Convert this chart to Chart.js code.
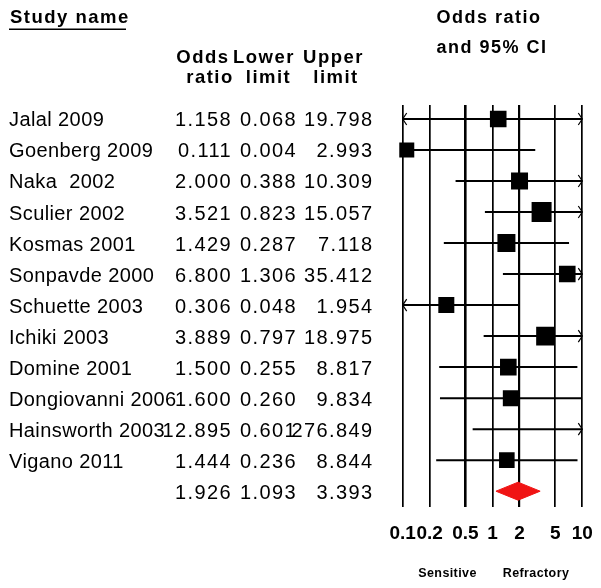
<!DOCTYPE html>
<html>
<head>
<meta charset="utf-8">
<script src="https://cdn.jsdelivr.net/npm/chart.js@4/dist/chart.umd.min.js"></script>
<style>
  html, body { margin: 0; padding: 0; background: #fff; }
</style>
</head>
<body>
<canvas id="forest" width="601" height="588"></canvas>
<script>
// Values
const studies = ['Jalal 2009', 'Goenberg 2009', 'Naka  2002', 'Sculier 2002', 'Kosmas 2001', 'Sonpavde 2000',
    'Schuette 2003', 'Ichiki 2003', 'Domine 2001', 'Dongiovanni 2006', 'Hainsworth 2003', 'Vigano 2011'];
const oddsRatio = [1.158, 0.111, 2.000, 3.521, 1.429, 6.800, 0.306, 3.889, 1.500, 1.600, 12.895, 1.444];
const lowerLimit = [0.068, 0.004, 0.388, 0.823, 0.287, 1.306, 0.048, 0.797, 0.255, 0.260, 0.601, 0.236];
const upperLimit = [19.798, 2.993, 10.309, 15.057, 7.118, 35.412, 1.954, 18.975, 8.817, 9.834, 276.849, 8.844];
// relative study weights (box size)
const studyWeight = [8.3, 7.5, 8.5, 10, 9, 8.3, 8, 9.3, 8.3, 8, 7, 7.8];
const summaryOR = 1.926;
const summaryLower = 1.093;
const summaryUpper = 3.393;
const xTicks = [0.1, 0.2, 0.5, 1, 2, 5, 10];

const FONT = '"Liberation Sans", Arial, sans-serif';
const X_MIN = 0.1, X_MAX = 10;
const BOX_SCALE = 2;          // weight -> box side in px
const DIAMOND_HALF = 0.29;    // half height of the summary diamond in row units
const summaryRow = studies.length;

// CI lines, one dataset per study, clamped to the axis range
const ciSets = studies.map((name, i) => ({
    type: 'line',
    label: name,
    data: [
        { x: Math.max(lowerLimit[i], X_MIN), y: i },
        { x: Math.min(upperLimit[i], X_MAX), y: i }
    ],
    borderColor: '#000',
    borderWidth: 2,
    pointRadius: 0,
    fill: false
}));

const boxSet = {
    type: 'scatter',
    label: 'Odds ratio',
    data: oddsRatio.map((v, i) => ({ x: v, y: i })),
    pointStyle: 'rect',
    pointRadius: studyWeight.map(w => w * BOX_SCALE / Math.SQRT2),
    pointHoverRadius: studyWeight.map(w => w * BOX_SCALE / Math.SQRT2),
    backgroundColor: '#000',
    borderWidth: 0,
    clip: { left: 12, top: 12, right: 0, bottom: 12 }
};

const diamondSet = {
    type: 'line',
    label: 'Summary',
    data: [
        { x: summaryLower, y: summaryRow },
        { x: summaryOR, y: summaryRow - DIAMOND_HALF },
        { x: summaryUpper, y: summaryRow },
        { x: summaryOR, y: summaryRow + DIAMOND_HALF },
        { x: summaryLower, y: summaryRow }
    ],
    borderColor: '#f01414',
    backgroundColor: '#f01414',
    borderWidth: 1,
    pointRadius: 0,
    tension: 0,
    fill: 'shape'
};

// little open arrow heads where a CI runs off the axis
const chevron = (ctx, px, py, dir) => {
    ctx.beginPath();
    ctx.moveTo(px - dir * 4, py - 6);
    ctx.lineTo(px, py);
    ctx.lineTo(px - dir * 4, py + 6);
    ctx.stroke();
};

const arrowPlugin = {
    id: 'ciArrows',
    afterDatasetsDraw(chart) {
        const { ctx, scales: { x, y } } = chart;
        ctx.save();
        ctx.strokeStyle = '#000';
        ctx.lineWidth = 1.2;
        studies.forEach((name, i) => {
            const py = y.getPixelForValue(i);
            if (lowerLimit[i] < X_MIN) chevron(ctx, x.getPixelForValue(X_MIN), py, -1);
            if (upperLimit[i] > X_MAX) chevron(ctx, x.getPixelForValue(X_MAX), py, 1);
        });
        ctx.restore();
    }
};

// the study table on the left and the headings
const tablePlugin = {
    id: 'studyTable',
    afterDraw(chart) {
        const { ctx, scales: { y } } = chart;
        ctx.save();
        ctx.fillStyle = '#000';
        ctx.textBaseline = 'alphabetic';

        ctx.font = 'bold 18.5px ' + FONT;
        ctx.letterSpacing = '1.5px';
        ctx.textAlign = 'left';
        ctx.fillText('Study name', 10, 23.3);
        ctx.fillRect(9, 28.5, 117, 1.5);

        ctx.textAlign = 'center';
        ctx.fillText('Odds', 203, 63.3);
        ctx.fillText('ratio', 210, 83.3);
        ctx.fillText('Lower', 264, 63.3);
        ctx.fillText('limit', 268.5, 83.3);
        ctx.fillText('Upper', 333.5, 63.3);
        ctx.fillText('limit', 336, 83.3);

        ctx.font = 'bold 18px ' + FONT;
        ctx.fillText('Odds ratio', 489, 22.7);
        ctx.fillText('and 95% CI', 492, 52.7);

        ctx.font = 'bold 12.5px ' + FONT;
        ctx.letterSpacing = '0.4px';
        ctx.fillText('Sensitive', 447.5, 577);
        ctx.fillText('Refractory', 536, 577);

        ctx.font = '20px ' + FONT;
        const row = (i, name, or, lo, hi) => {
            const base = y.getPixelForValue(i) + 7.5;
            ctx.textAlign = 'left';
            ctx.letterSpacing = '0.4px';
            if (name) ctx.fillText(name, 9, base);
            ctx.textAlign = 'right';
            ctx.letterSpacing = '1.4px';
            ctx.fillText(or.toFixed(3), 232, base);
            ctx.fillText(lo.toFixed(3), 297, base);
            ctx.fillText(hi.toFixed(3), 373.5, base);
        };
        studies.forEach((name, i) => row(i, name, oddsRatio[i], lowerLimit[i], upperLimit[i]));
        row(summaryRow, '', summaryOR, summaryLower, summaryUpper);
        ctx.restore();
    }
};

const gridWidths = [1.7, 1.7, 2.6, 1.7, 2.2, 1.7, 1.7];

new Chart(document.getElementById('forest').getContext('2d'), {
    type: 'scatter',
    data: { datasets: [...ciSets, boxSet, diamondSet] },
    options: {
        responsive: false,
        animation: false,
        events: [],
        layout: { padding: { left: 402.7, right: 18.7, top: 105, bottom: 42.5 } },
        plugins: {
            legend: { display: false },
            tooltip: { enabled: false }
        },
        scales: {
            x: {
                type: 'logarithmic',
                min: X_MIN,
                max: X_MAX,
                afterBuildTicks: scale => {
                    scale.ticks = xTicks.map(v => ({ value: v }));
                },
                afterFit: scale => {
                    // keep the plot box where the reference has it
                    scale.paddingLeft = 0;
                    scale.paddingRight = 0;
                    scale.height = 38.8;
                },
                grid: {
                    color: '#000',
                    lineWidth: ctx => gridWidths[ctx.index] || 1.7,
                    drawTicks: false
                },
                border: { display: false },
                ticks: {
                    autoSkip: false,
                    maxRotation: 0,
                    minRotation: 0,
                    padding: 16,
                    color: '#000',
                    font: { family: FONT, size: 19, weight: 'bold' },
                    callback: v => String(v)
                }
            },
            y: {
                type: 'linear',
                display: false,
                reverse: true,
                min: -0.45,
                max: 12.5
            }
        }
    },
    plugins: [arrowPlugin, tablePlugin]
});
</script>
</body>
</html>
